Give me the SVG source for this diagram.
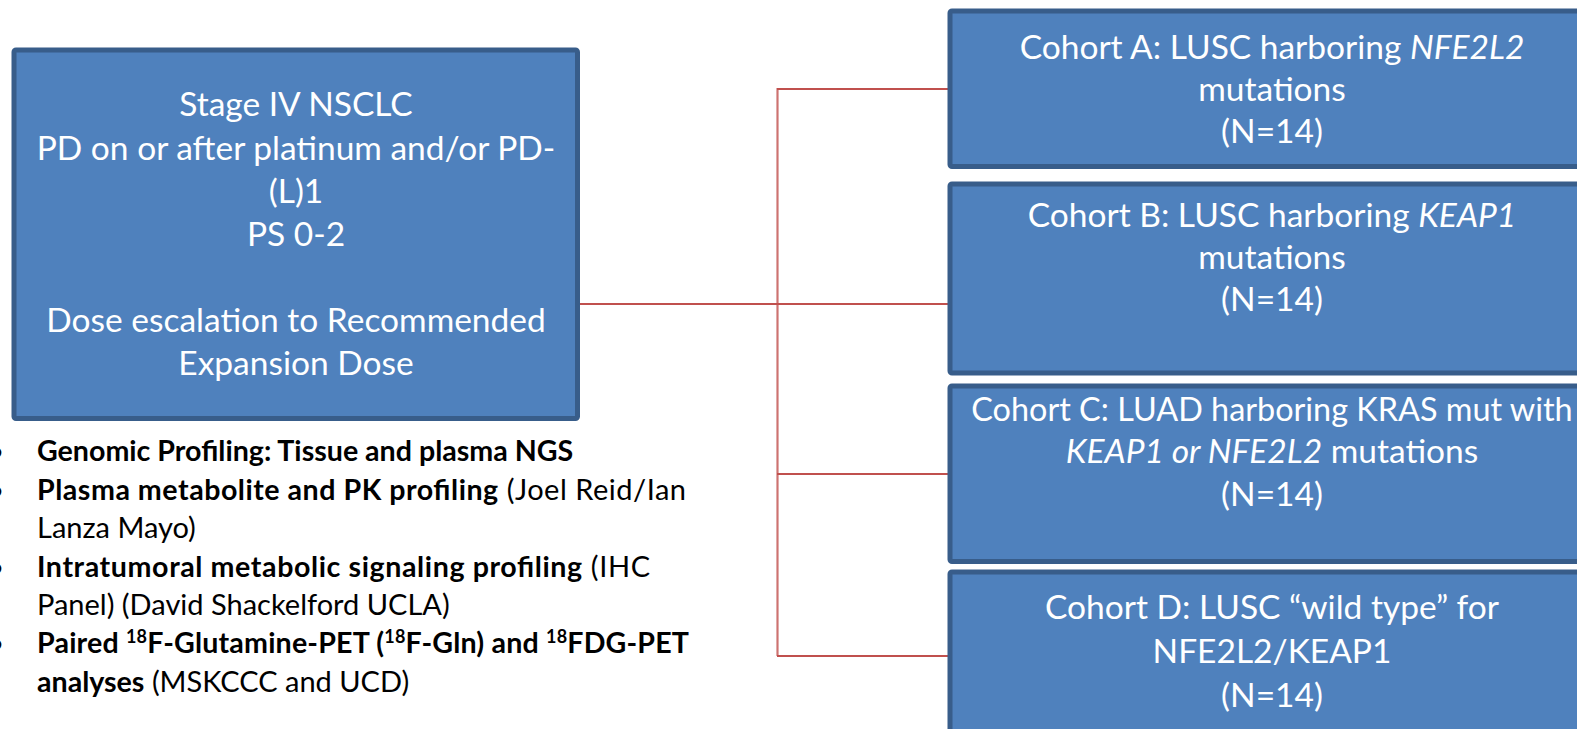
<svg xmlns="http://www.w3.org/2000/svg" width="1577" height="729" viewBox="0 0 1577 729">
  <style>
    .box { fill: #4f81bd; stroke: #385d8a; stroke-width: 5; }
    .bt { font-family: Lato, "Liberation Sans", sans-serif; font-size: 33.5px; fill: #ffffff; text-anchor: middle; }
    .bl { font-family: Lato, "Liberation Sans", sans-serif; font-size: 29px; fill: #000000; }
    .b { font-weight: bold; font-size: 28.6px; }
    .i { font-style: italic; }
    .sup { font-size: 18px; }
    .conn { stroke: #c0504d; stroke-width: 2.2; fill: none; }
  </style>
  <rect width="1577" height="729" fill="#ffffff"/>

  <g id="connectors">
    <line class="conn" x1="578" y1="304" x2="949" y2="304"/>
    <line class="conn" x1="777.5" y1="88" x2="777.5" y2="656" stroke-opacity="0.8"/>
    <line class="conn" x1="777" y1="89" x2="949" y2="89"/>
    <line class="conn" x1="777" y1="474" x2="949" y2="474"/>
    <line class="conn" x1="777" y1="656" x2="949" y2="656"/>
  </g>

  <g id="node-main">
    <rect class="box" x="14" y="50" width="563.5" height="368.5" rx="2"/>
    <text class="bt" x="296" y="116">Stage IV NSCLC</text>
    <text class="bt" x="296" y="159.5">PD on or after platinum and/or PD-</text>
    <text class="bt" x="296" y="202.5">(L)1</text>
    <text class="bt" x="296" y="245.5">PS 0-2</text>
    <text class="bt" x="296" y="331.5">Dose escalation to Recommended</text>
    <text class="bt" x="296" y="375">Expansion Dose</text>
  </g>

  <g id="node-cohort-a">
    <rect class="box" x="950" y="11" width="645" height="155.5" rx="2"/>
    <text class="bt" x="1272" y="58.5">Cohort A: LUSC harboring <tspan class="i">NFE2L2</tspan></text>
    <text class="bt" x="1272" y="100.5">mutations</text>
    <text class="bt" x="1272" y="143">(N=14)</text>
  </g>

  <g id="node-cohort-b">
    <rect class="box" x="950" y="184" width="645" height="189" rx="2"/>
    <text class="bt" x="1272" y="226.7">Cohort B: LUSC harboring <tspan class="i">KEAP1</tspan></text>
    <text class="bt" x="1272" y="268.5">mutations</text>
    <text class="bt" x="1272" y="310.5">(N=14)</text>
  </g>

  <g id="node-cohort-c">
    <rect class="box" x="950" y="386" width="645" height="175.5" rx="2"/>
    <text class="bt" x="1272" y="420.7" style="font-size:32.4px">Cohort C: LUAD harboring KRAS mut with</text>
    <text class="bt" x="1272" y="463.3"><tspan class="i">KEAP1 or NFE2L2</tspan> mutations</text>
    <text class="bt" x="1272" y="506">(N=14)</text>
  </g>

  <g id="node-cohort-d">
    <rect class="box" x="950" y="572" width="645" height="170" rx="2"/>
    <text class="bt" x="1272" y="619.3">Cohort D: LUSC “wild type” for</text>
    <text class="bt" x="1272" y="663">NFE2L2/KEAP1</text>
    <text class="bt" x="1272" y="707">(N=14)</text>
  </g>

  <g id="node-bullets">
    <text class="bl" x="-4" y="460.7" text-anchor="middle">•</text>
    <text class="bl" x="-4" y="499.5" text-anchor="middle">•</text>
    <text class="bl" x="-4" y="576.7" text-anchor="middle">•</text>
    <text class="bl" x="-4" y="653.3" text-anchor="middle">•</text>
    <text class="bl b" x="37" y="460.7">Genomic Profiling: Tissue and plasma NGS</text>
    <text class="bl" x="37" y="499.5" textLength="649"><tspan class="b">Plasma metabolite and PK profiling</tspan> (Joel Reid/Ian</text>
    <text class="bl" x="37" y="538">Lanza Mayo)</text>
    <text class="bl" x="37" y="576.7" textLength="613"><tspan class="b">Intratumoral metabolic signaling profiling</tspan> (IHC</text>
    <text class="bl" x="37" y="615">Panel) (David Shackelford UCLA)</text>
    <text class="bl b" x="37" y="653.3" textLength="652">Paired <tspan class="sup" dy="-10">18</tspan><tspan dy="10">F-Glutamine-PET (</tspan><tspan class="sup" dy="-10">18</tspan><tspan dy="10">F-Gln) and </tspan><tspan class="sup" dy="-10">18</tspan><tspan dy="10">FDG-PET</tspan></text>
    <text class="bl" x="37" y="691.7"><tspan class="b">analyses</tspan> (MSKCCC and UCD)</text>
  </g>
</svg>
